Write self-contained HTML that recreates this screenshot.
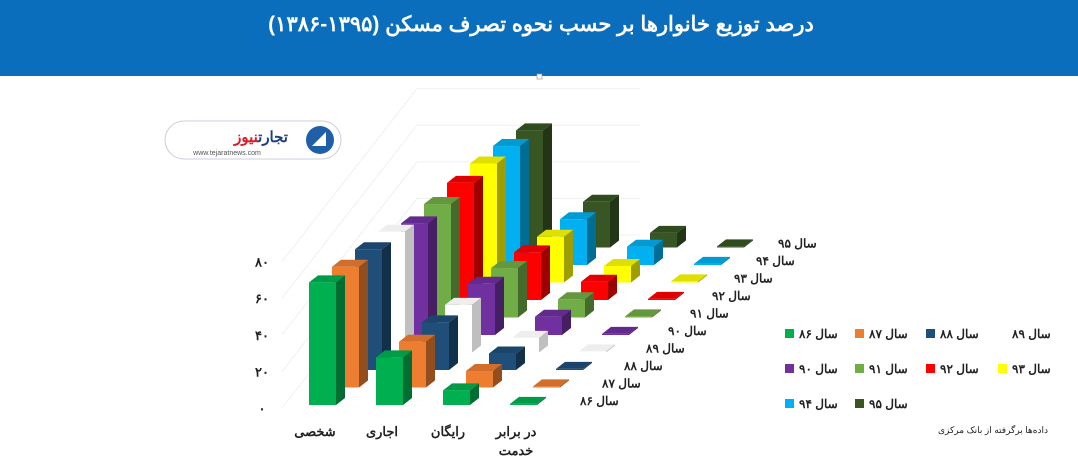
<!DOCTYPE html>
<html><head><meta charset="utf-8">
<style>
html,body{margin:0;padding:0;background:#fff;width:1078px;height:464px;overflow:hidden}
svg{display:block}
text{font-family:"Liberation Sans","Noto Sans CJK SC",sans-serif}
</style></head>
<body>
<svg id="chart" width="1078" height="464" viewBox="0 0 1078 464">
<rect x="0" y="0" width="1078" height="76" fill="#0a6ebd"/>
<text x="541" y="31" text-anchor="middle" font-size="21" font-weight="bold" fill="#fff">درصد توزیع خانوارها بر حسب نحوه تصرف مسکن (۱۳۹۵-۱۳۸۶)</text>
<rect x="537" y="74" width="5" height="5" fill="#fff" stroke="#999" stroke-width="0.7"/>
<g>
<rect x="165" y="121" width="176" height="38" rx="19" fill="#fff" stroke="#ccd" stroke-width="1"/>
<circle cx="320" cy="140" r="14" fill="#1f5fa8"/>
<path d="M312 146 L326 132 L326 146 Z" fill="#fff"/>
<text x="288" y="142" text-anchor="end" font-size="15" font-weight="bold" fill="#1f3f80">تجارت<tspan fill="#d8202a">نیوز</tspan></text>
<text x="227" y="155" text-anchor="middle" font-size="7" fill="#555">www.tejaratnews.com</text>
</g>
<g id="grid"></g>
<g id="bars"></g>
<g id="labels"></g>
<g id="legend"></g>
<text x="993" y="433" text-anchor="middle" font-size="9" fill="#222">داده‌ها برگرفته از بانک مرکزی</text>
</svg>
<script>
const categories = ["شخصی","اجاری","رایگان","در برابر خدمت"];
const seriesNames = ["سال ۸۶","سال ۸۷","سال ۸۸","سال ۸۹","سال ۹۰","سال ۹۱","سال ۹۲","سال ۹۳","سال ۹۴","سال ۹۵"];
const seriesColors = ["#00b050","#ed7d31","#1f4e79","#ffffff","#7030a0","#70ad47","#ff0000","#ffff00","#00b0f0","#375623"];
const shomali = [67,66,66,66,61,62,64,65,65,64];
const ejari = [26,25,26,26,28,27,26,25,25,25];
const raygan = [8,9,9,8,10,10,10,9,10,8];
const khedmat = [0.6,0.6,0.6,0.6,0.6,0.6,0.6,0.6,0.6,0.6];
const values = [shomali, ejari, raygan, khedmat];
const yTicks = [0,20,40,60,80];
const yTickLabels = ["۰","۲۰","۴۰","۶۰","۸۰"];

const NS="http://www.w3.org/2000/svg";
const PX=1.83, BASE=405, DX=23, DY=17.5, W=27, DDX=9, DDY=7;
const catX0=309, CAT_STEP=67;
function xCat(c,k){return catX0+c*CAT_STEP+k*DX;}
function yBase(k){return BASE-k*DY;}
function yVal(v,k){return yBase(k)-v*PX;}
function yAxis(v){return 408-v*PX;}
function shade(hex,f){const n=parseInt(hex.slice(1),16);let r=n>>16,g=(n>>8)&255,b=n&255;
 return "rgb("+Math.round(r*f)+","+Math.round(g*f)+","+Math.round(b*f)+")";}
function mk(tag,attrs,parent){const e=document.createElementNS(NS,tag);for(const a in attrs)e.setAttribute(a,attrs[a]);parent.appendChild(e);return e;}

const grid=document.getElementById('grid');
yTicks.forEach((t,i)=>{
 const y=yAxis(t);
 const l=mk('polyline',{points:`282,${y} 417,${y-173} 640,${y-173}`,fill:'none',stroke:'#f0f0f0','stroke-width':1},grid);
 
 
 const tx=mk('text',{x:262,y:y+5,'text-anchor':'middle','font-size':13,'font-weight':'bold',fill:'#222'},grid);
 tx.textContent=yTickLabels[i];
 
 
});

const bars=document.getElementById('bars');
for(let k=seriesNames.length-1;k>=0;k--){
 for(let c=0;c<categories.length;c++){
  const v=values[c][k];
  const x=xCat(c,k), yb=yBase(k), yt=yVal(v,k);
  const col=seriesColors[k];
  const side = col==="#ffffff" ? "#bfbfbf" : shade(col,0.62);
  const top = col==="#ffffff" ? "#eeeeee" : shade(col,0.88);
  const g=mk('g',{},bars);
  
  
  mk('polygon',{points:`${x+W},${yt} ${x+W+DDX},${yt-DDY} ${x+W+DDX},${yb-DDY} ${x+W},${yb}`,fill:side},g);
  mk('polygon',{points:`${x},${yt} ${x+DDX},${yt-DDY} ${x+W+DDX},${yt-DDY} ${x+W},${yt}`,fill:top},g);
  mk('rect',{x:x,y:yt,width:W,height:Math.max(0,yb-yt),fill:col},g);
 }
}

const labels=document.getElementById('labels');
seriesNames.forEach((n,k)=>{
 const t=mk('text',{x:580+k*22,y:405-k*17.5,'font-size':12,'font-weight':'bold',fill:'#222','text-anchor':'start'},labels);
 t.textContent=n;
 
 
});
const catLabelX=[315,382,448,516];
categories.forEach((n,c)=>{
 if(c===3){
  const t1=mk('text',{x:catLabelX[c],y:436,'text-anchor':'middle','font-size':13,'font-weight':'bold',fill:'#222'},labels);
  t1.textContent="در برابر";
  
  
  const t2=mk('text',{x:catLabelX[c],y:455,'text-anchor':'middle','font-size':13,'font-weight':'bold',fill:'#222'},labels);
  t2.textContent="خدمت";
  
  
 } else {
  const t=mk('text',{x:catLabelX[c],y:436,'text-anchor':'middle','font-size':13,'font-weight':'bold',fill:'#222'},labels);
  t.textContent=n;
  
  
 }
});

const legend=document.getElementById('legend');
const colX=[785,855,926,998], rowY=[334,369,404];
seriesNames.forEach((n,k)=>{
 const cx=colX[k%4], cy=rowY[Math.floor(k/4)];
 const g=mk('g',{},legend);
 
 
 mk('rect',{x:cx,y:cy-5,width:9,height:9,fill:seriesColors[k]},g);
 const t=mk('text',{x:cx+14,y:cy+4,'font-size':12,'font-weight':'bold',fill:'#222'},g);
 t.textContent=n;
});
</script>
</body></html>
